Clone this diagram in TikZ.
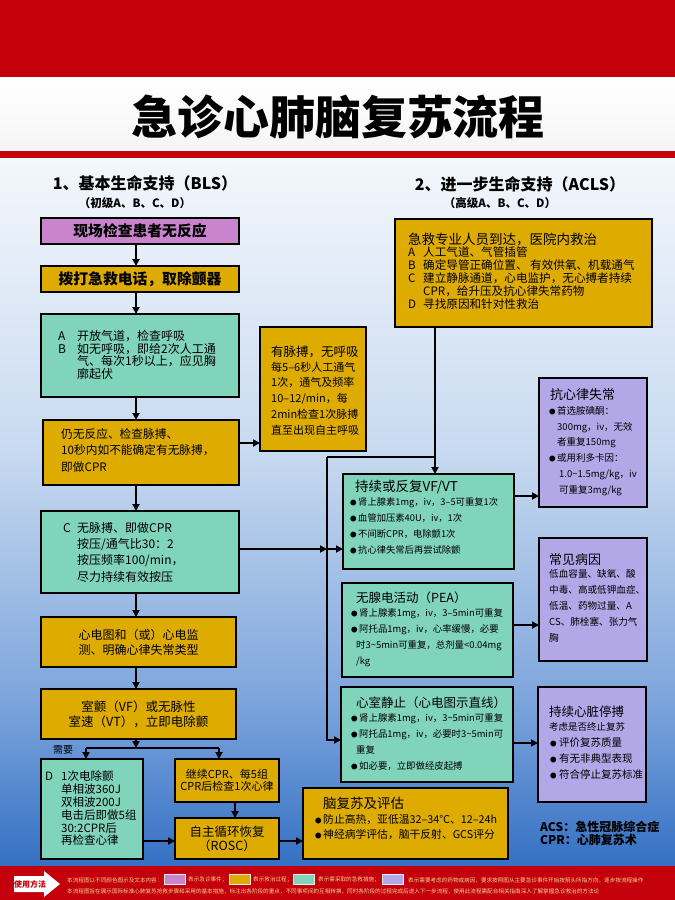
\documentclass[tikz,border=0pt]{standalone}
\usepackage{fontspec}
\setmainfont{Noto Sans CJK SC}
\usetikzlibrary{arrows.meta,calc}
\definecolor{cred}{RGB}{196,0,12}
\definecolor{cpurp}{RGB}{202,132,206}
\definecolor{cgold}{RGB}{222,172,0}
\definecolor{cteal}{RGB}{128,212,186}
\definecolor{clav}{RGB}{178,168,232}
\definecolor{bgA}{RGB}{243,247,252}
\definecolor{bgB}{RGB}{200,218,240}
\definecolor{bgC}{RGB}{125,165,220}
\definecolor{bgD}{RGB}{52,112,196}
\definecolor{ftx}{RGB}{245,212,140}
\newcommand{\fsz}[2]{\fontsize{#1pt}{#2pt}\selectfont}
\newcommand{\mkbox}[6]{\node[#6, anchor=north west, minimum width={(#4)-(#2)}, minimum height={(#5)-(#3)}] (#1) at (#2,#3) {};}
\newcommand{\bul}[1]{\makebox[#1][l]{\fontsize{6.5pt}{6.5pt}\selectfont ●}}
\newcommand{\tld}{\textasciitilde}
\tikzset{
 bx/.style={draw=black, line width=1.5pt, rectangle, inner sep=0pt, outer sep=0pt},
 purp/.style={bx, fill=cpurp},
 gold/.style={bx, fill=cgold},
 teal/.style={bx, fill=cteal},
 lav/.style={bx, fill=clav},
 arr/.style={line width=1.8pt, -{Triangle[length=7pt,width=7pt]}},
 ln/.style={line width=1.8pt},
 tx/.style={anchor=north west, inner sep=0pt, align=left, text=black},
 tc/.style={anchor=center, inner sep=0pt, align=center, text=black},
 ft/.style={anchor=west, inner sep=0pt, text=ftx, font=\fsz{5.6}{6}},
 sw/.style={anchor=west, draw=white!85!gray, line width=0.6pt, minimum width=21, minimum height=10, inner sep=0pt},
}
\begin{document}
\begin{tikzpicture}[x=1pt,y=-1pt]
\useasboundingbox (0,0) rectangle (675,900);
% background
\fill[cred] (0,0) rectangle (675,77);
\shade[top color=white, bottom color=white!92!gray] (0,77) rectangle (675,151);
\fill[cred] (0,151) rectangle (675,158);
\shade[top color=bgA, bottom color=bgB] (0,158) rectangle (675,450);
\shade[top color=bgB, bottom color=bgC] (0,450) rectangle (675,700);
\shade[top color=bgC, bottom color=bgD] (0,700) rectangle (675,866.5);
\fill[cred] (0,866) rectangle (675,900);

% title and headings
\node[tc, font=\fsz{46}{46}\bfseries] (title) at (338,117) {急诊心肺脑复苏流程};
\node[tc, font=\fsz{16}{16}\bfseries] (h1) at (145,183) {1、基本生命支持（BLS）};
\node[tc, font=\fsz{11.5}{12}\bfseries] (h1s) at (135,203) {（初级A、B、C、D）};
\node[tc, font=\fsz{16}{16}\bfseries] (h2) at (520,184) {2、进一步生命支持（ACLS）};
\node[tc, font=\fsz{11.5}{12}\bfseries] (h2s) at (500,203) {（高级A、B、C、D）};

% boxes
\mkbox{b1}{41}{218}{239}{244}{purp}
\mkbox{b2}{41}{266}{239}{292}{gold}
\mkbox{b3}{41}{314}{239}{397}{teal}
\mkbox{b4}{43}{420}{239}{485}{gold}
\mkbox{b5}{41}{511}{239}{593}{teal}
\mkbox{b6}{41}{617}{236}{667}{gold}
\mkbox{b7}{41}{689}{236}{739}{gold}
\mkbox{bd}{41}{759}{143}{859}{teal}
\mkbox{bc}{175}{759}{279}{802}{gold}
\mkbox{br}{175}{818}{279}{859}{gold}
\mkbox{bb}{303}{788}{508}{859}{gold}
\mkbox{ba}{395}{219}{652}{327}{gold}
\mkbox{bp}{260}{327}{366}{451}{gold}
\mkbox{bv}{343}{474}{514}{569}{teal}
\mkbox{bk}{539}{378}{647}{507}{lav}
\mkbox{be}{342}{583}{513}{677}{teal}
\mkbox{bq}{539}{538}{647}{661}{lav}
\mkbox{bs}{341}{687}{513}{782}{teal}
\mkbox{bt}{538}{687}{646}{802}{lav}

% left column texts
\node[tc, font=\fsz{14.8}{16}\bfseries] (t1) at (b1) {现场检查患者无反应};
\node[tc, font=\fsz{14.8}{16}\bfseries] (t2) at (b2) {拨打急救电话，取除颤器};
\node[tx, font=\fsz{12}{12.7}] (t3) at (58,330) {\makebox[19pt][l]{A}开放气道，检查呼吸\\\makebox[19pt][l]{B}如无呼吸，即给2次人工通\\\hspace*{19pt}气、每次1秒以上，应见胸\\\hspace*{19pt}廓起伏};
\node[tx, font=\fsz{11.7}{16.5}] (t4) at (61,428) {仍无反应、检查脉搏、\\10秒内如不能确定有无脉搏，\\即做CPR};
\node[tx, font=\fsz{12}{16.3}] (t5) at (63,522) {\makebox[14pt][l]{C}无脉搏、即做CPR\\\hspace*{14pt}按压/通气比30：2\\\hspace*{14pt}按压频率100/min，\\\hspace*{14pt}尽力持续有效按压};
\node[tc, font=\fsz{12}{15}] (t6) at (b6) {心电图和（或）心电监\\测、明确心律失常类型};
\node[tc, font=\fsz{12.5}{15}] (t7) at (b7) {室颤（VF）或无脉性\\室速（VT），立即电除颤};
\node[tx, font=\fsz{10}{10}] (tneed) at (53,745) {需要};
\node[tx, font=\fsz{11.5}{12.8}] (t8) at (45,771) {\makebox[16pt][l]{D}1次电除颤\\\hspace*{16pt}单相波360J\\\hspace*{16pt}双相波200J\\\hspace*{16pt}电击后即做5组\\\hspace*{16pt}30:2CPR后\\\hspace*{16pt}再检查心律};
\node[tc, font=\fsz{11}{12.5}] (t9) at (bc) {继续CPR、每5组\\CPR后检查1次心律};
\node[tc, font=\fsz{12.5}{14}] (t10) at (br) {自主循环恢复\\（ROSC）};
\node[tx, font=\fsz{13.5}{14}] (t11a) at (323,796.5) {脑复苏及评估};
\node[tx, font=\fsz{10.8}{15}] (t11b) at (315,814.5) {\bul{8pt}防止高热，亚低温32–34℃、12–24h\\\bul{8pt}神经病学评估，脑干反射、GCS评分};

% right side texts
\node[tx, font=\fsz{13.5}{14}] (tAa) at (408,233) {急救专业人员到达，医院内救治};
\node[tx, font=\fsz{11.6}{12.9}] (tAb) at (408,246.5) {\makebox[15pt][l]{A}人工气道、气管插管\\\makebox[15pt][l]{B}确定导管正确位置、 有效供氧、机载通气\\\makebox[15pt][l]{C}建立静脉通道，心电监护，无心搏者持续\\\hspace*{15pt}CPR，给升压及抗心律失常药物\\\makebox[15pt][l]{D}寻找原因和针对性救治};
\node[tx, font=\fsz{12.5}{13}] (tPa) at (271,346) {有脉搏，无呼吸};
\node[tx, font=\fsz{11}{15.8}] (tPb) at (271,361.5) {每5–6秒人工通气\\1次，通气及频率\\10–12/min，每\\2min检查1次脉搏\\直至出现自主呼吸};
\node[tx, font=\fsz{13}{13}] (tKa) at (550,388.5) {抗心律失常};
\node[tx, font=\fsz{9.5}{15.8}] (tKb) at (549,406) {\bul{8pt}首选胺碘酮：\\\hspace*{8pt}300mg，iv，无效\\\hspace*{8pt}者重复150mg\\\bul{8pt}或用利多卡因：\\\hspace*{10pt}1.0\tld 1.5mg/kg，iv\\\hspace*{10pt}可重复3mg/kg};
\node[tx, font=\fsz{13.5}{14}] (tVa) at (355,480) {持续或反复VF/VT};
\node[tx, font=\fsz{9.3}{16}] (tVb) at (350,497) {\bul{8pt}肾上腺素1mg，iv，3–5可重复1次\\\bul{8pt}血管加压素40U，iv，1次\\\bul{8pt}不间断CPR，电除颤1次\\\bul{8pt}抗心律失常后再尝试除颤};
\node[tx, font=\fsz{12.5}{13}] (tEa) at (356,592) {无腺电活动（PEA）};
\node[tx, font=\fsz{9.4}{16}] (tEb) at (351,608) {\bul{8pt}肾上腺素1mg，iv，3–5min可重复\\\bul{8pt}阿托品1mg，iv，心率缓慢，必要\\\hspace*{5pt}时3\tld 5min可重复，总剂量<0.04mg\\\hspace*{5pt}/kg};
\node[tx, font=\fsz{12.5}{13}] (tSa) at (356,697) {心室静止（心电图示直线）};
\node[tx, font=\fsz{9.4}{16}] (tSb) at (351,713) {\bul{8pt}肾上腺素1mg，iv，3\tld 5min可重复\\\bul{8pt}阿托品1mg，iv，必要时3\tld 5min可\\\hspace*{5pt}重复\\\bul{8pt}如必要，立即做经皮起搏};
\node[tx, font=\fsz{13}{13}] (tQa) at (549,553.5) {常见病因};
\node[tx, font=\fsz{9.6}{16}] (tQb) at (549,569) {低血容量、缺氧、酸\\中毒、高或低钾血症、\\低温、药物过量、A\\CS、肺栓塞、张力气\\胸};
\node[tx, font=\fsz{12.5}{13}] (tTa) at (549,706) {持续心脏停搏};
\node[tx, font=\fsz{9.5}{10}] (tTb) at (549,722) {考虑是否终止复苏};
\node[tx, font=\fsz{10.5}{16.3}] (tTc) at (550,737) {\bul{9pt}评价复苏质量\\\bul{9pt}有无非典型表现\\\bul{9pt}符合停止复苏标准};
\node[tx, font=\fsz{12}{12.5}\bfseries] (tacs) at (540,821) {ACS：急性冠脉综合症\\CPR：心肺复苏术};

% connectors
\coordinate (ax) at (136,0);
\coordinate (vx) at (435,0);
\coordinate (cx) at (235,0);
\coordinate (y443) at (0,443);
\coordinate (y496) at (0,496);
\coordinate (y549) at (0,549);
\coordinate (y625) at (0,625);
\coordinate (y740) at (0,740);
\coordinate (y743) at (0,743);
\coordinate (y841) at (0,841);
\coordinate (jx) at (327,457);
\coordinate (bj) at (136,748);
\coordinate (bL) at (86,748);
\coordinate (bR) at (219,748);
\draw[arr] (b1.south -| ax) -- (b2.north -| ax);
\draw[arr] (b2.south -| ax) -- (b3.north -| ax);
\draw[arr] (b3.south -| ax) -- (b4.north -| ax);
\draw[arr] (b4.south -| ax) -- (b5.north -| ax);
\draw[arr] (b5.south -| ax) -- (b6.north -| ax);
\draw[arr] (b6.south -| ax) -- (b7.north -| ax);
\draw[arr] (b4.east |- y443) -- (bp.west |- y443);
\draw[arr] (ba.south -| vx) -- (bv.north -| vx);
\draw[ln] (jx -| vx) -- (jx);
\draw[arr] (jx) |- (bs.west |- y740);
\draw[arr] (b5.east |- y549) -- (jx |- y549);
\draw[arr] (jx |- y549) -- (bv.west |- y549);
\draw[arr] (bv.east |- y496) -- (bk.west |- y496);
\draw[arr] (be.east |- y625) -- (bq.west |- y625);
\draw[arr] (bs.east |- y743) -- (bt.west |- y743);
\draw[ln] (bL) -- (bR);
\draw[arr] (b7.south -| ax) -- (bj);
\draw[arr] (bL) -- (bd.north -| bL);
\draw[arr] (bR) -- (bc.north -| bR);
\draw[arr] (bc.south -| cx) -- (br.north -| cx);
\draw[arr] (bd.east |- y841) -- (br.west |- y841);
\draw[arr] (br.east |- y841) -- (bb.west |- y841);

% footer
\fill[white] (14,876) -- (44,876) -- (44,871) -- (60,884) -- (44,897) -- (44,892) -- (14,892) -- cycle;
\node[tc, font=\fsz{8}{8}\bfseries, text=cred] (use) at (30,884) {使用方法};
\node[ft] (f1) at (67,880) {本流程图以不同颜色图示及文本内容：};
\node[sw, fill=cpurp] (s1) at (164,879.5) {};
\node[ft] (f2) at (188,880) {表示急诊事件；};
\node[sw, fill=cgold] (s2) at (229,879.5) {};
\node[ft] (f3) at (253,880) {表示救治过程；};
\node[sw, fill=cteal] (s3) at (293,879.5) {};
\node[ft] (f4) at (318,880) {表示需采取的急救措施；};
\node[sw, fill=clav] (s4) at (382,879.5) {};
\node[ft] (f5) at (408,880) {表示需要考虑的药物或病因，要求按照图从主要急诊事件开始按箭头所指方向，逐步按流程操作};
\node[ft] (f6) at (67,891) {本流程图旨在展示国际标准心肺复苏抢救步骤和采用的基本措施，标注出各阶段的重点，不同事项间的互相转换，同时各阶段的过程完成后进入下一步流程，使用此流程需配合相关指南深入了解掌握急诊救治的方法论};
\end{tikzpicture}
\end{document}
